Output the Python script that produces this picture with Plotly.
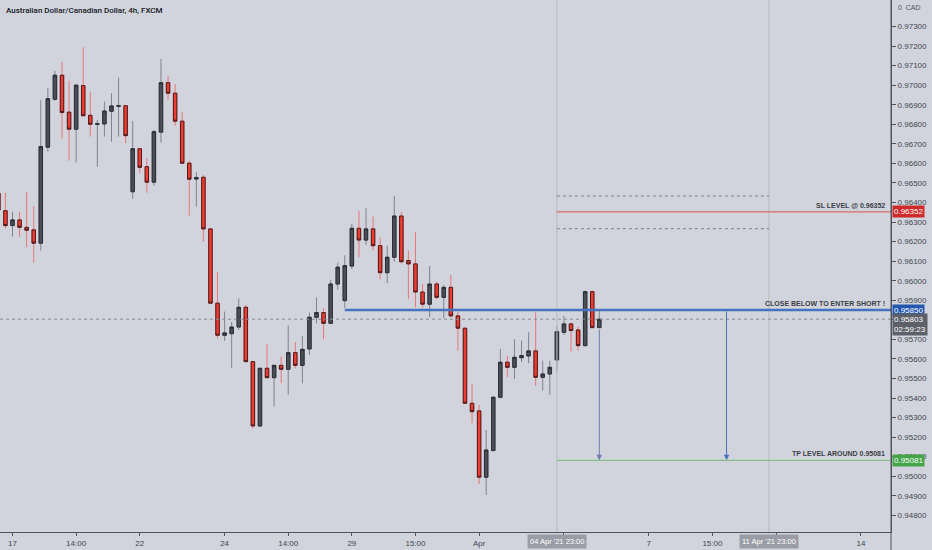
import numpy as np
import plotly.graph_objects as go

# 4h AUD/CAD candles, bar index -2 .. 83 (0 = first bar of 17 Mar)
opens = [0.96447, 0.96358, 0.96282, 0.96311, 0.96273, 0.96260, 0.96192, 0.96683, 0.96928, 0.97051,
         0.96862, 0.96775, 0.96998, 0.96846, 0.96800, 0.96802, 0.96867, 0.96892, 0.96895, 0.96455,
         0.96675, 0.96583, 0.96504, 0.96760, 0.97013, 0.96959, 0.96816, 0.96601, 0.96520, 0.96529,
         0.96265, 0.95885, 0.95721, 0.95729, 0.95763, 0.95864, 0.95586, 0.95257, 0.95552, 0.95504,
         0.95567, 0.95547, 0.95632, 0.95567, 0.95651, 0.95813, 0.95837, 0.95782, 0.95983, 0.95898,
         0.96075, 0.96268, 0.96208, 0.96265, 0.96179, 0.96041, 0.96120, 0.96331, 0.96103, 0.96086,
         0.95942, 0.95880, 0.95983, 0.95915, 0.95966, 0.95820, 0.95757, 0.95373, 0.95334, 0.94995,
         0.95131, 0.95404, 0.95583, 0.95557, 0.95606, 0.95615, 0.95641, 0.95506, 0.95523, 0.95595,
         0.95736, 0.95779, 0.95748, 0.95668, 0.95944, 0.95760]
highs = [0.96464, 0.96449, 0.96353, 0.96353, 0.96455, 0.96382, 0.96924, 0.96987, 0.97074, 0.97119,
         0.97023, 0.97005, 0.97194, 0.96967, 0.96822, 0.96916, 0.96959, 0.97039, 0.96897, 0.96817,
         0.96677, 0.96626, 0.96771, 0.97134, 0.97047, 0.97006, 0.96865, 0.96614, 0.96555, 0.96541,
         0.96267, 0.96046, 0.95842, 0.95789, 0.95910, 0.95876, 0.95588, 0.95554, 0.95676, 0.95569,
         0.95612, 0.95772, 0.95687, 0.95717, 0.95837, 0.95915, 0.95859, 0.96004, 0.96092, 0.96130,
         0.96290, 0.96358, 0.96371, 0.96328, 0.96222, 0.96179, 0.96434, 0.96353, 0.96154, 0.96248,
         0.95983, 0.96075, 0.95995, 0.95978, 0.96029, 0.95840, 0.95759, 0.95472, 0.95364, 0.95237,
         0.95406, 0.95651, 0.95615, 0.95701, 0.95693, 0.95736, 0.95839, 0.95591, 0.95591, 0.95765,
         0.95820, 0.95785, 0.95765, 0.95949, 0.95949, 0.95850]
lows = [0.96347, 0.96268, 0.96225, 0.96225, 0.96171, 0.96092, 0.96154, 0.96660, 0.96921, 0.96725,
        0.96614, 0.96604, 0.96839, 0.96737, 0.96583, 0.96737, 0.96711, 0.96737, 0.96703, 0.96418,
        0.96550, 0.96450, 0.96486, 0.96706, 0.96924, 0.96792, 0.96597, 0.96333, 0.96379, 0.96200,
        0.95883, 0.95706, 0.95692, 0.95555, 0.95748, 0.95584, 0.95245, 0.95252, 0.95502, 0.95356,
        0.95475, 0.95416, 0.95552, 0.95475, 0.95620, 0.95782, 0.95701, 0.95779, 0.95953, 0.95859,
        0.96059, 0.96120, 0.96183, 0.96154, 0.96007, 0.95987, 0.96097, 0.96089, 0.95905, 0.95864,
        0.95862, 0.95813, 0.95905, 0.95808, 0.95813, 0.95642, 0.95371, 0.95271, 0.94960, 0.94904,
        0.95129, 0.95399, 0.95506, 0.95497, 0.95583, 0.95578, 0.95462, 0.95438, 0.95416, 0.95535,
        0.95723, 0.95637, 0.95642, 0.95663, 0.95757, 0.95757]
closes = [0.96362, 0.96282, 0.96311, 0.96273, 0.96258, 0.96192, 0.96686, 0.96931, 0.97051, 0.96860,
          0.96775, 0.97000, 0.96844, 0.96800, 0.96803, 0.96868, 0.96894, 0.96895, 0.96742, 0.96675,
          0.96580, 0.96504, 0.96762, 0.97013, 0.96959, 0.96816, 0.96601, 0.96519, 0.96528, 0.96265,
          0.95885, 0.95721, 0.95733, 0.95763, 0.95864, 0.95586, 0.95257, 0.95552, 0.95504, 0.95567,
          0.95547, 0.95632, 0.95567, 0.95649, 0.95813, 0.95837, 0.95782, 0.95983, 0.96069, 0.96077,
          0.96268, 0.96208, 0.96265, 0.96179, 0.96041, 0.96120, 0.96331, 0.96097, 0.96086, 0.95942,
          0.95880, 0.95983, 0.95915, 0.95966, 0.95820, 0.95757, 0.95373, 0.95330, 0.94995, 0.95134,
          0.95404, 0.95583, 0.95557, 0.95608, 0.95617, 0.95641, 0.95506, 0.95523, 0.95557, 0.95739,
          0.95779, 0.95745, 0.95668, 0.95944, 0.95760, 0.95803]
first_bar = -2

tick_bars = [0, 9, 18, 30, 39, 48, 57, 66, 78, 90, 99, 108, 120]
tick_text = ["17", "14:00", "22", "24", "14:00", "29", "15:00", "Apr", "5", "7", "15:00", "12", "14"]
price_ticks = [0.948, 0.949, 0.950, 0.951, 0.952, 0.953, 0.954, 0.955, 0.956, 0.957, 0.958, 0.959,
               0.960, 0.961, 0.962, 0.963, 0.964, 0.965, 0.966, 0.967, 0.968, 0.969, 0.970, 0.971,
               0.972, 0.973]

# trade plan levels
sl_level = 0.96352
entry_level = 0.95850
tp_level = 0.95081
last_price = 0.95803
box_top, box_bottom = 0.96433, 0.96266
entry_start_bar = 47
range_bars = [77, 107]
range_labels = ["04 Apr '21 23:00", "11 Apr '21 23:00"]
arrow_bars = [83, 101]
arrow_starts = [0.95757, 0.95850]

x_range = [-1.77, 124.26]
y_range = [0.947146, 0.974358]

bg = "#d1d4dc"
x = np.arange(first_bar, first_bar + len(opens))
o = np.array(opens)
c = np.array(closes)

fig = go.Figure()
# wicks (full high/low), coloured like TradingView wicks
fig.add_trace(go.Candlestick(
    x=x, open=o, high=highs, low=lows, close=c,
    increasing=dict(line=dict(color="#80838c", width=1), fillcolor="#4a4e57"),
    decreasing=dict(line=dict(color="#e8767a", width=1), fillcolor="#ef3b30"),
    whiskerwidth=0, hoverinfo="skip", showlegend=False))
# bodies with dark borders on top
fig.add_trace(go.Candlestick(
    x=x, open=o, high=np.maximum(o, c), low=np.minimum(o, c), close=c,
    increasing=dict(line=dict(color="#2b2e35", width=1), fillcolor="#4a4e57"),
    decreasing=dict(line=dict(color="#4a1c1c", width=1), fillcolor="#ef3b30"),
    whiskerwidth=0, showlegend=False))

shapes = []
for b in range_bars:
    shapes.append(dict(type="line", xref="x", yref="paper", x0=b, x1=b, y0=0, y1=1,
                       line=dict(color="#b6b9c0", width=1)))
for lvl in [box_top, box_bottom]:
    shapes.append(dict(type="line", xref="x", yref="y", x0=range_bars[0], x1=range_bars[1],
                       y0=lvl, y1=lvl, line=dict(color="#7d8089", width=1, dash="dot")))
shapes.append(dict(type="line", xref="x", yref="y", x0=x_range[0], x1=x_range[1],
                   y0=last_price, y1=last_price, line=dict(color="#8a8d95", width=1, dash="dot")))
shapes.append(dict(type="line", xref="x", yref="y", x0=range_bars[0], x1=x_range[1],
                   y0=sl_level, y1=sl_level, line=dict(color="#d9504a", width=1)))
shapes.append(dict(type="line", xref="x", yref="y", x0=entry_start_bar, x1=x_range[1],
                   y0=entry_level, y1=entry_level, line=dict(color="#4673c0", width=2.5)))
shapes.append(dict(type="line", xref="x", yref="y", x0=range_bars[0], x1=x_range[1],
                   y0=tp_level, y1=tp_level, line=dict(color="#74bd72", width=1)))
# price axis line running down into the time scale
shapes.append(dict(type="line", xref="paper", yref="paper", x0=1, x1=1, y0=-0.04, y1=1,
                   line=dict(color="#50535e", width=1)))

small = dict(family="Liberation Sans", size=8, color="#434651")
ann = []
ann.append(dict(xref="paper", yref="paper", x=0, y=1, xanchor="left", yanchor="top",
                xshift=4, yshift=-4, showarrow=False,
                text="Australian Dollar/Canadian Dollar, 4h, FXCM",
                font=dict(family="Roboto", size=8, color="#131722", weight=500)))
ann.append(dict(xref="paper", yref="paper", x=1, y=1, xanchor="left", yanchor="top",
                xshift=5, yshift=-2, showarrow=False, text="0  CAD",
                font=dict(family="Liberation Sans", size=7, color="#50535e")))
for lvl, txt in [(sl_level, "SL LEVEL @ 0.96352"),
                 (entry_level, "CLOSE BELOW TO ENTER SHORT !"),
                 (tp_level, "TP LEVEL AROUND 0.95081")]:
    ann.append(dict(xref="paper", yref="y", x=1, y=lvl, xanchor="right", yanchor="bottom",
                    xshift=-4, yshift=1, showarrow=False, text=txt,
                    font=dict(family="Liberation Sans", size=7, color="#3b3e46", weight="bold")))
for b, y0, col in zip(arrow_bars, arrow_starts, ["#6a7db0", "#4a72b8"]):
    ann.append(dict(x=b, y=tp_level, ax=b, ay=y0, xref="x", yref="y", axref="x", ayref="y",
                    showarrow=True, arrowhead=2, arrowsize=1.1, arrowwidth=1, arrowcolor=col,
                    text=""))
for lvl, txt, col in [(sl_level, "0.96352", "#cf2a2a"),
                      (entry_level, "0.95850", "#2458b0"),
                      (tp_level, "0.95081", "#44a548")]:
    ann.append(dict(xref="paper", yref="y", x=1, y=lvl, xanchor="left", yanchor="middle",
                    xshift=1, showarrow=False, text=txt, bgcolor=col, borderpad=1,
                    font=dict(family="Liberation Sans", size=8, color="white")))
ann.append(dict(xref="paper", yref="y", x=1, y=last_price, xanchor="left", yanchor="top",
                xshift=1, yshift=6, showarrow=False, text="0.95803<br>02:59:23",
                bgcolor="#5d6069", borderpad=1, align="left",
                font=dict(family="Liberation Sans", size=8, color="white")))
for b, txt in zip(range_bars, range_labels):
    ann.append(dict(xref="x", yref="paper", x=b, y=0, xanchor="center", yanchor="top",
                    yshift=-2, showarrow=False, text=txt, bgcolor="#9a9da6", borderpad=2,
                    font=dict(family="Liberation Sans", size=7.5, color="white")))

fig.update_layout(
    width=932, height=550,
    margin=dict(l=0, r=41, t=0, b=18),
    paper_bgcolor=bg, plot_bgcolor=bg,
    showlegend=False, shapes=shapes, annotations=ann,
    boxgap=0.3,
    xaxis=dict(range=x_range, rangeslider=dict(visible=False), showgrid=False, zeroline=False,
               tickmode="array", tickvals=tick_bars, ticktext=tick_text,
               ticks="outside", ticklen=3, tickcolor="#50535e", tickfont=small,
               showline=True, linecolor="#50535e", linewidth=1),
    yaxis=dict(range=y_range, side="right", showgrid=False, zeroline=False,
               tickmode="array", tickvals=price_ticks, tickformat=".5f",
               ticks="outside", ticklen=4, tickcolor="#50535e", tickfont=small,
               showline=True, linecolor="#50535e", linewidth=1),
)

# the page has a default body margin; drop it so the chart fills the window
js = "document.body.style.margin = '0'; document.body.style.backgroundColor = '%s';" % bg
fig.write_html("out.html", post_script=[js], config={"displayModeBar": False})
